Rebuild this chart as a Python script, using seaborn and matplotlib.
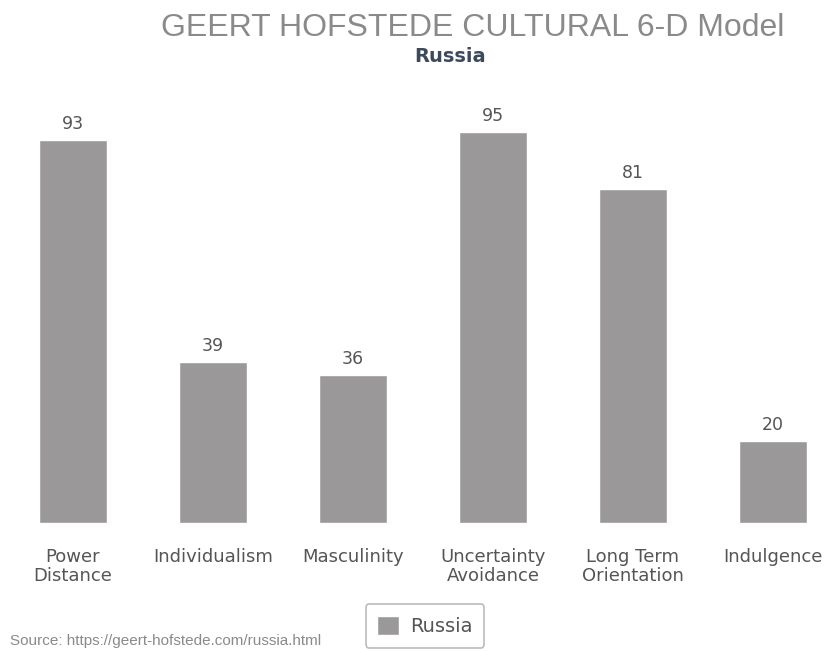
import matplotlib
matplotlib.use("Agg")
import matplotlib.pyplot as plt
import seaborn as sns
import pandas as pd

categories = ["Power\nDistance", "Individualism", "Masculinity",
              "Uncertainty\nAvoidance", "Long Term\nOrientation", "Indulgence"]
values = [93, 39, 36, 95, 81, 20]
country = "Russia"

title = "GEERT HOFSTEDE CULTURAL 6-D Model"
source = "Source: https://geert-hofstede.com/russia.html"

bar_color = "#9b989a"

sns.set_theme(style="white")
plt.rcParams["font.family"] = ["DejaVu Sans"]

df = pd.DataFrame({"dimension": categories, "score": values, "country": [country] * len(values)})

fig = plt.figure(figsize=(8.25, 6.52), dpi=100)
ax = fig.add_axes([0.0, (652 - 523) / 652, 1.0, 412 / 652])

sns.barplot(data=df, x="dimension", y="score", hue="country", palette={country: bar_color},
            dodge=False, width=0.48, saturation=1, ax=ax, legend=True)

ax.set_xlim(-73 / 140, (825 - 73) / 140)
ax.set_ylim(0, 100)
for s in ax.spines.values():
    s.set_visible(False)
ax.set_yticks([])
ax.set_xlabel("")
ax.set_ylabel("")
ax.tick_params(axis="x", length=0, pad=18, labelsize=13, labelcolor="#555555")
for lab in ax.get_xticklabels():
    lab.set_linespacing(1.1)

for c in ax.containers:
    ax.bar_label(c, padding=5, fontsize=12.5, color="#555555")

leg = ax.legend(loc="center", bbox_to_anchor=(425 / 825, (652 - 626) / 652),
                bbox_transform=fig.transFigure, frameon=True, fontsize=14,
                handlelength=1.1, handleheight=1.1, handletextpad=0.6,
                borderpad=0.6, fancybox=True)
leg.get_frame().set_edgecolor("#aaaaaa")
leg.get_frame().set_linewidth(1.2)
for t in leg.get_texts():
    t.set_color("#555555")

fig.text(473 / 825, 1 - 28 / 652, title, ha="center", va="center", fontsize=23,
         color="#8a8a8a", family="Liberation Sans")
fig.text(450 / 825, 1 - 56 / 652, country, ha="center", va="center", fontsize=14,
         color="#3d4a5c", fontweight="bold")
fig.text(10 / 825, 1 - 641 / 652, source, ha="left", va="center", fontsize=11,
         color="#8a8a8a", family="Liberation Sans")

fig.savefig("out.png", dpi=100)
